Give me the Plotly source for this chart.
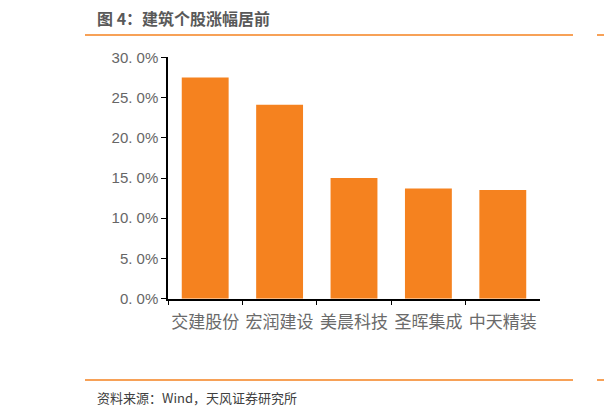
import plotly.graph_objects as go

categories = ["交建股份", "宏润建设", "美晨科技", "圣晖集成", "中天精装"]
values = [27.5, 24.1, 15.0, 13.7, 13.5]
tick_vals = [0, 5, 10, 15, 20, 25, 30]
tick_text = ["0. 0%", "5. 0%", "10. 0%", "15. 0%", "20. 0%", "25. 0%", "30. 0%"]

OFF = 8  # page body margin
W, H = 612 - OFF, 415 - OFF
ORANGE = "#F5821F"

def px(x):
    return (x - OFF) / W

def py(y):
    return 1 - (y - OFF) / H

fig = go.Figure(go.Bar(x=categories, y=values, marker=dict(color=ORANGE, line=dict(width=0)),
                       width=0.63))

fig.update_layout(
    width=W, height=H,
    margin=dict(l=0, r=0, t=0, b=0),
    paper_bgcolor="white", plot_bgcolor="white",
    showlegend=False,
    xaxis=dict(domain=[px(168), px(540)], showline=True, linecolor="black", linewidth=1.5,
               ticks="outside", tickson="boundaries", ticklen=5, tickcolor="black",
               ticklabelstandoff=7, tickangle=0,
               tickfont=dict(family="Noto Sans CJK SC", size=17, color="#6a6a6a"),
               automargin=False, showgrid=False),
    yaxis=dict(domain=[py(298.7), py(57.3)], range=[0, 30], showline=True, linecolor="black",
               linewidth=1.5, ticks="outside", ticklen=5, tickcolor="black",
               tickvals=tick_vals, ticktext=tick_text, showgrid=False, zeroline=False,
               tickfont=dict(family="Liberation Sans", size=15, color="#666666"),
               automargin=False),
    shapes=[
        dict(type="line", xref="paper", yref="paper", x0=px(85), x1=px(573), y0=py(35), y1=py(35),
             line=dict(color=ORANGE, width=1.5)),
        dict(type="line", xref="paper", yref="paper", x0=px(597), x1=px(612), y0=py(35), y1=py(35),
             line=dict(color=ORANGE, width=1.5)),
        dict(type="line", xref="paper", yref="paper", x0=px(85), x1=px(573), y0=py(380), y1=py(380),
             line=dict(color=ORANGE, width=1.5)),
        dict(type="line", xref="paper", yref="paper", x0=px(597), x1=px(612), y0=py(380), y1=py(380),
             line=dict(color=ORANGE, width=1.5)),
    ],
    annotations=[
        dict(text="<b>图 4：建筑个股涨幅居前</b>", xref="paper", yref="paper", x=px(95), y=py(18),
             xanchor="left", yanchor="middle", showarrow=False,
             font=dict(family="Noto Sans CJK SC", size=16, color="#595959")),
        dict(text="<b>图</b>", xref="paper", yref="paper", x=px(603), y=py(18),
             xanchor="left", yanchor="middle", showarrow=False,
             font=dict(family="Noto Sans CJK SC", size=16, color="#595959")),
        dict(text="资料来源：Wind，天风证券研究所", xref="paper", yref="paper", x=px(95), y=py(397),
             xanchor="left", yanchor="middle", showarrow=False,
             font=dict(family="Noto Sans CJK SC", size=13, color="#404040")),
        dict(text="资", xref="paper", yref="paper", x=px(603), y=py(397),
             xanchor="left", yanchor="middle", showarrow=False,
             font=dict(family="Noto Sans CJK SC", size=13, color="#404040")),
    ],
)

fig.write_html("out.html")
